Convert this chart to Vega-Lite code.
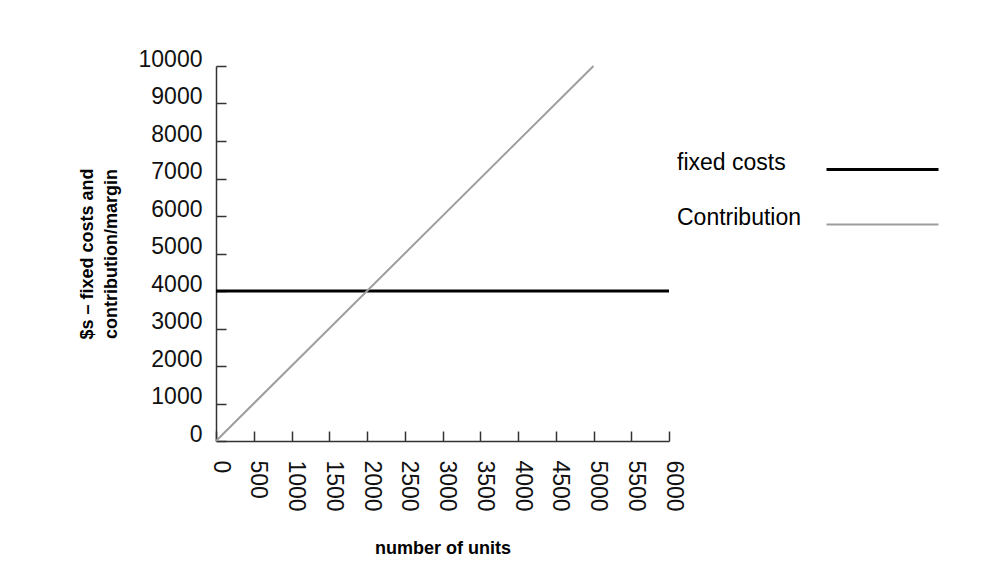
{
  "$schema": "https://vega.github.io/schema/vega-lite/v6.json",
  "width": 453,
  "height": 375,
  "autosize": {"type": "none"},
  "padding": {"left": 216, "top": 66, "right": 318, "bottom": 145},
  "background": "white",
  "config": {"view": {"stroke": null}, "font": "Liberation Sans"},
  "data": {
    "values": [
      {"series": "fixed costs", "units": 0, "value": 4000},
      {"series": "fixed costs", "units": 6000, "value": 4000},
      {"series": "Contribution", "units": 0, "value": 0},
      {"series": "Contribution", "units": 5000, "value": 10000}
    ]
  },
  "mark": {"type": "line"},
  "encoding": {
    "x": {
      "field": "units",
      "type": "quantitative",
      "scale": {"domain": [0, 6000], "nice": false},
      "axis": {
        "title": "number of units",
        "values": [0, 500, 1000, 1500, 2000, 2500, 3000, 3500, 4000, 4500, 5000, 5500, 6000],
        "format": "d",
        "labelAngle": 90,
        "labelFontSize": 23,
        "labelColor": "#111",
        "labelOffset": 4,
        "labelFlush": false,
        "labelOverlap": false,
        "labelPadding": 29,
        "tickSize": -10,
        "tickColor": "#333",
        "tickWidth": 1.5,
        "domainColor": "#333",
        "domainWidth": 1.5,
        "grid": false,
        "titleFontSize": 18,
        "titleFontWeight": "bold",
        "titleColor": "#000",
        "titlePadding": 28
      }
    },
    "y": {
      "field": "value",
      "type": "quantitative",
      "scale": {"domain": [0, 10000], "nice": false},
      "axis": {
        "title": ["$s – fixed costs and", "contribution/margin"],
        "values": [0, 1000, 2000, 3000, 4000, 5000, 6000, 7000, 8000, 9000, 10000],
        "format": "d",
        "labelFontSize": 23,
        "labelColor": "#111",
        "labelOffset": -7,
        "labelFlush": false,
        "labelOverlap": false,
        "labelPadding": 24,
        "tickSize": -10,
        "tickColor": "#333",
        "tickWidth": 1.5,
        "domainColor": "#333",
        "domainWidth": 1.5,
        "grid": false,
        "titleFontSize": 18,
        "titleFontWeight": "bold",
        "titleColor": "#000",
        "titleLineHeight": 24,
        "titlePadding": 18
      }
    },
    "color": {
      "field": "series",
      "type": "nominal",
      "scale": {"domain": ["fixed costs", "Contribution"], "range": ["#000000", "#9e9e9e"]},
      "legend": {
        "title": null,
        "orient": "none",
        "legendX": 655,
        "legendY": 92,
        "padding": 0,
        "symbolType": "M-8,0H8",
        "symbolSize": 196,
        "symbolStrokeWidth": 2.5,
        "labelFontSize": 23,
        "labelColor": "#000",
        "labelAlign": "left",
        "labelBaseline": "alphabetic",
        "labelOffset": -217,
        "labelLimit": 0,
        "rowPadding": 30
      }
    },
    "strokeWidth": {
      "field": "series",
      "type": "nominal",
      "scale": {"domain": ["fixed costs", "Contribution"], "range": [3, 2]},
      "legend": null
    }
  }
}
